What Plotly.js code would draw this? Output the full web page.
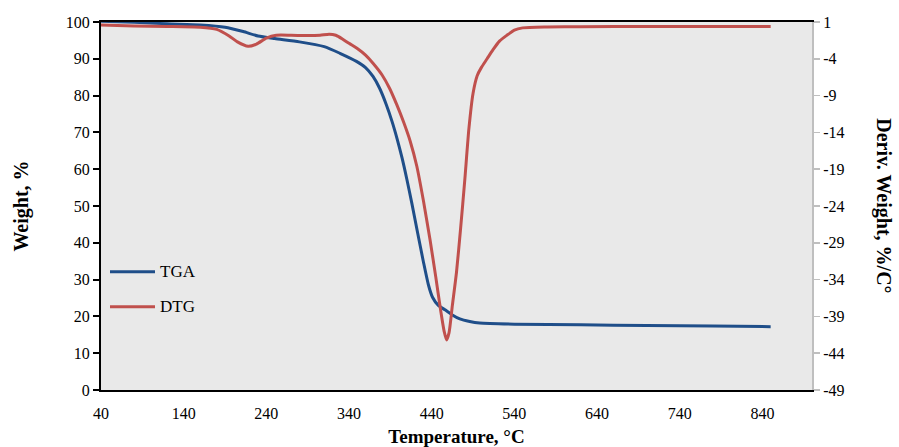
<!DOCTYPE html>
<html>
<head>
<meta charset="utf-8">
<script src="https://cdn.plot.ly/plotly-3.0.1.min.js"></script>
<style>html,body{margin:0;padding:0;background:#fff;}#chart{width:899px;height:447px;}</style>
</head>
<body>
<div id="chart"></div>
<script>
const tgaTemp = [40,80,120,160,190,212,230,250,280,310,329,349,360,369,377,385,392,398,404,410,416,422,430,436,441,448,456,465,474,486,498,540,620,700,780,850];
const tgaWeight = [100.2,99.9,99.5,99.2,98.6,97.4,96.2,95.5,94.6,93.3,91.5,89.3,87.6,85.2,82,77.6,73,68.4,63.2,57.2,50.7,43.8,34.8,28.6,25.2,23,21.8,20.4,19.3,18.6,18.2,17.9,17.7,17.5,17.4,17.2];
const dtgTemp = [40,80,120,160,180,195,205,218,228,240,252,270,290,305,316,324,332,340,350,360,369,380,389,398,406,414,422,430,438,445,451,455,458,461,465,470,475,480,485,490,495,500,507,514,522,531,540,550,580,620,700,850];
const dtgDeriv = [0.6,0.45,0.4,0.3,0.0,-0.9,-1.7,-2.3,-2.0,-1.2,-0.8,-0.8,-0.85,-0.8,-0.65,-0.8,-1.3,-1.9,-2.6,-3.5,-4.6,-6.2,-8.0,-10.3,-12.6,-15.2,-18.6,-23.3,-28.6,-33.7,-38.3,-41,-42.2,-41.2,-37.5,-33,-27,-20.5,-13.5,-8.7,-6.3,-5.2,-4.0,-2.8,-1.6,-0.8,-0.1,0.2,0.32,0.36,0.4,0.4];
const xTicks = [40,140,240,340,440,540,640,740,840];
const yTicks = [0,10,20,30,40,50,60,70,80,90,100];
const y2Ticks = [1,-4,-9,-14,-19,-24,-29,-34,-39,-44,-49];
const y2Labels = y2Ticks.map(v => String(v));
const seriesNames = ['TGA', 'DTG'];

const font = 'Liberation Serif, Times New Roman, serif';
const blue = '#1f4e89', red = '#c0504d';
const data = [
  {x: tgaTemp, y: tgaWeight, name: seriesNames[0], type: 'scatter', mode: 'lines',
   line: {color: blue, width: 3, shape: 'spline', smoothing: 0.6}},
  {x: dtgTemp, y: dtgDeriv, name: seriesNames[1], type: 'scatter', mode: 'lines', yaxis: 'y2',
   line: {color: red, width: 3, shape: 'spline', smoothing: 0.6}}
];
const legY = [0.3215, 0.2264];
const legColors = [blue, red];
const layout = {
  width: 899, height: 447,
  margin: {l: 101, r: 87, t: 22, b: 57},
  paper_bgcolor: '#ffffff', plot_bgcolor: '#e9e9e9',
  font: {family: font, size: 16, color: '#000'},
  showlegend: false,
  xaxis: {range: [40, 900], tickvals: xTicks, ticks: '', ticklabelstandoff: 8, showgrid: false, zeroline: false,
          showline: true, linecolor: '#000', linewidth: 2, mirror: true,
          tickfont: {family: font, size: 16},
          title: {text: '<b>Temperature, °C</b>', font: {family: font, size: 19}, standoff: 8}},
  yaxis: {range: [0, 100], tickvals: yTicks, ticks: 'outside', ticklen: 6, tickwidth: 2, tickcolor: '#000',
          showgrid: false, zeroline: false, showline: true, linecolor: '#000', linewidth: 2,
          tickfont: {family: font, size: 16},
          title: {text: '<b>Weight, %</b>', font: {family: font, size: 20}, standoff: 32}},
  yaxis2: {range: [-49, 1], tickvals: y2Ticks, ticktext: y2Labels, overlaying: 'y', side: 'right', ticks: 'outside', ticklen: 6,
           tickcolor: '#bfbfbf', tickwidth: 1.5, showgrid: false, zeroline: false, showline: true,
           linecolor: '#bfbfbf', linewidth: 2, tickfont: {family: font, size: 16}},
  shapes: legY.map((y, i) => ({type: 'line', xref: 'paper', yref: 'paper', x0: 9/711, x1: 54/711, y0: y, y1: y,
                               line: {color: legColors[i], width: 3}})),
  annotations: [{text: '<b>Deriv. Weight, %/C°</b>', xref: 'paper', yref: 'paper', x: 1.101, y: 0.5,
                 xanchor: 'center', yanchor: 'middle', textangle: 90, showarrow: false,
                 font: {family: font, size: 20}}].concat(
    legY.map((y, i) => ({text: seriesNames[i], xref: 'paper', yref: 'paper', x: 57/711, y: y,
                         xanchor: 'left', yanchor: 'middle', showarrow: false,
                         font: {family: font, size: 17, color: '#000'}})))
};
Plotly.newPlot('chart', data, layout, {displayModeBar: false, staticPlot: true});
</script>
</body>
</html>
